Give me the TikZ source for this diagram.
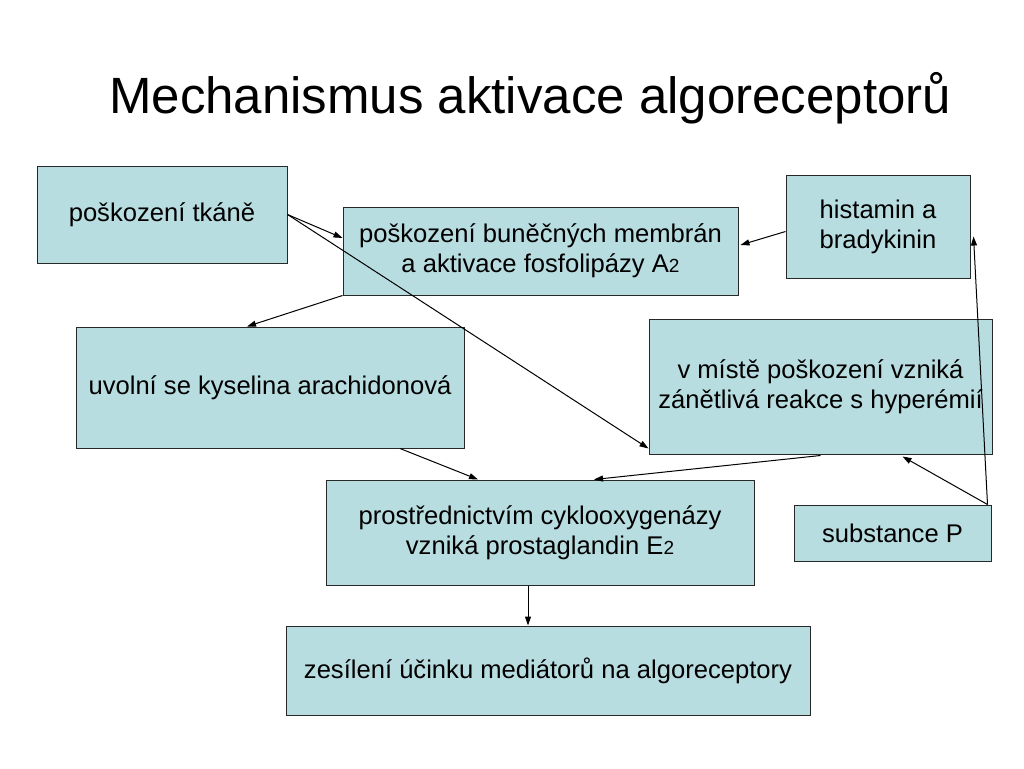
\documentclass[tikz,border=0pt]{standalone}
\usepackage{fontspec}
\setmainfont{Liberation Sans}
\usetikzlibrary{calc,arrows.meta}
\definecolor{boxfill}{RGB}{184,221,225}
\definecolor{boxline}{RGB}{40,40,40}
\newcommand{\smtwo}{{\fontsize{19}{20}\selectfont 2}}
\tikzset{
  box/.style={draw=boxline, fill=boxfill, line width=1pt, align=center, inner sep=2pt,
    font=\fontsize{25.6}{30}\selectfont},
  arr/.style={line width=1pt, -{Triangle[length=9pt,width=6pt]}}
}
\begin{document}
\begin{tikzpicture}[x=1pt,y=-1pt]
\useasboundingbox[fill=white] (0,0) rectangle (1024,768);
\node[anchor=base west, inner sep=0pt, font=\fontsize{51}{60}\selectfont] (title) at (109,113) {Mechanismus aktivace algoreceptorů};
\node[box, minimum width=250pt, minimum height=97pt] (tk) at (162,214.5) {poškození tkáně};
\node[box, minimum width=395pt, minimum height=88pt] (mem) at (540.5,251) {poškození buněčných membrán\\a aktivace fosfolipázy A\smtwo};
\node[box, minimum width=184pt, minimum height=103pt] (his) at (878,226.5) {histamin a\\bradykinin};
\node[box, minimum width=388pt, minimum height=121pt] (kys) at (270,387.5) {uvolní se kyselina arachidonová};
\node[box, minimum width=343pt, minimum height=135pt] (mis) at (820.5,386.5) {v místě poškození vzniká\\zánětlivá reakce s hyperémií};
\node[box, minimum width=428pt, minimum height=105pt] (cox) at (540,532.5) {prostřednictvím cyklooxygenázy\\vzniká prostaglandin E\smtwo};
\node[box, minimum width=197pt, minimum height=56pt] (sub) at (892.5,533) {substance P};
\node[box, minimum width=524pt, minimum height=89pt] (zes) at (548,670.5) {zesílení účinku mediátorů na algoreceptory};
\coordinate (subtop) at ($(sub.north east)+(-4pt,0)$);
\draw[arr] (tk.east) -- ($(mem.west)+(0,13pt)$);
\draw[arr] (tk.east) -- ($(mis.south west)+(0,6pt)$);
\draw[arr] (mem.south west) -- ($(kys.north)+(-23pt,0)$);
\draw[arr] ($(his.west)+(0,-5pt)$) -- ($(mem.east)+(2pt,6pt)$);
\draw[arr] ($(kys.south)+(130pt,0)$) -- ($(cox.north)+(-62pt,0)$);
\draw[arr] ($(mis.south)+(0,-1pt)$) -- ($(cox.north)+(54pt,0)$);
\draw[arr] ($(cox.south)+(-12pt,0)$) -- ($(zes.north)+(-20pt,0)$);
\draw[arr] (subtop) -- ($(mis.south)+(82pt,-2pt)$);
\draw[arr] (subtop) -- ($(his.east)+(3pt,-10pt)$);
\end{tikzpicture}
\end{document}
